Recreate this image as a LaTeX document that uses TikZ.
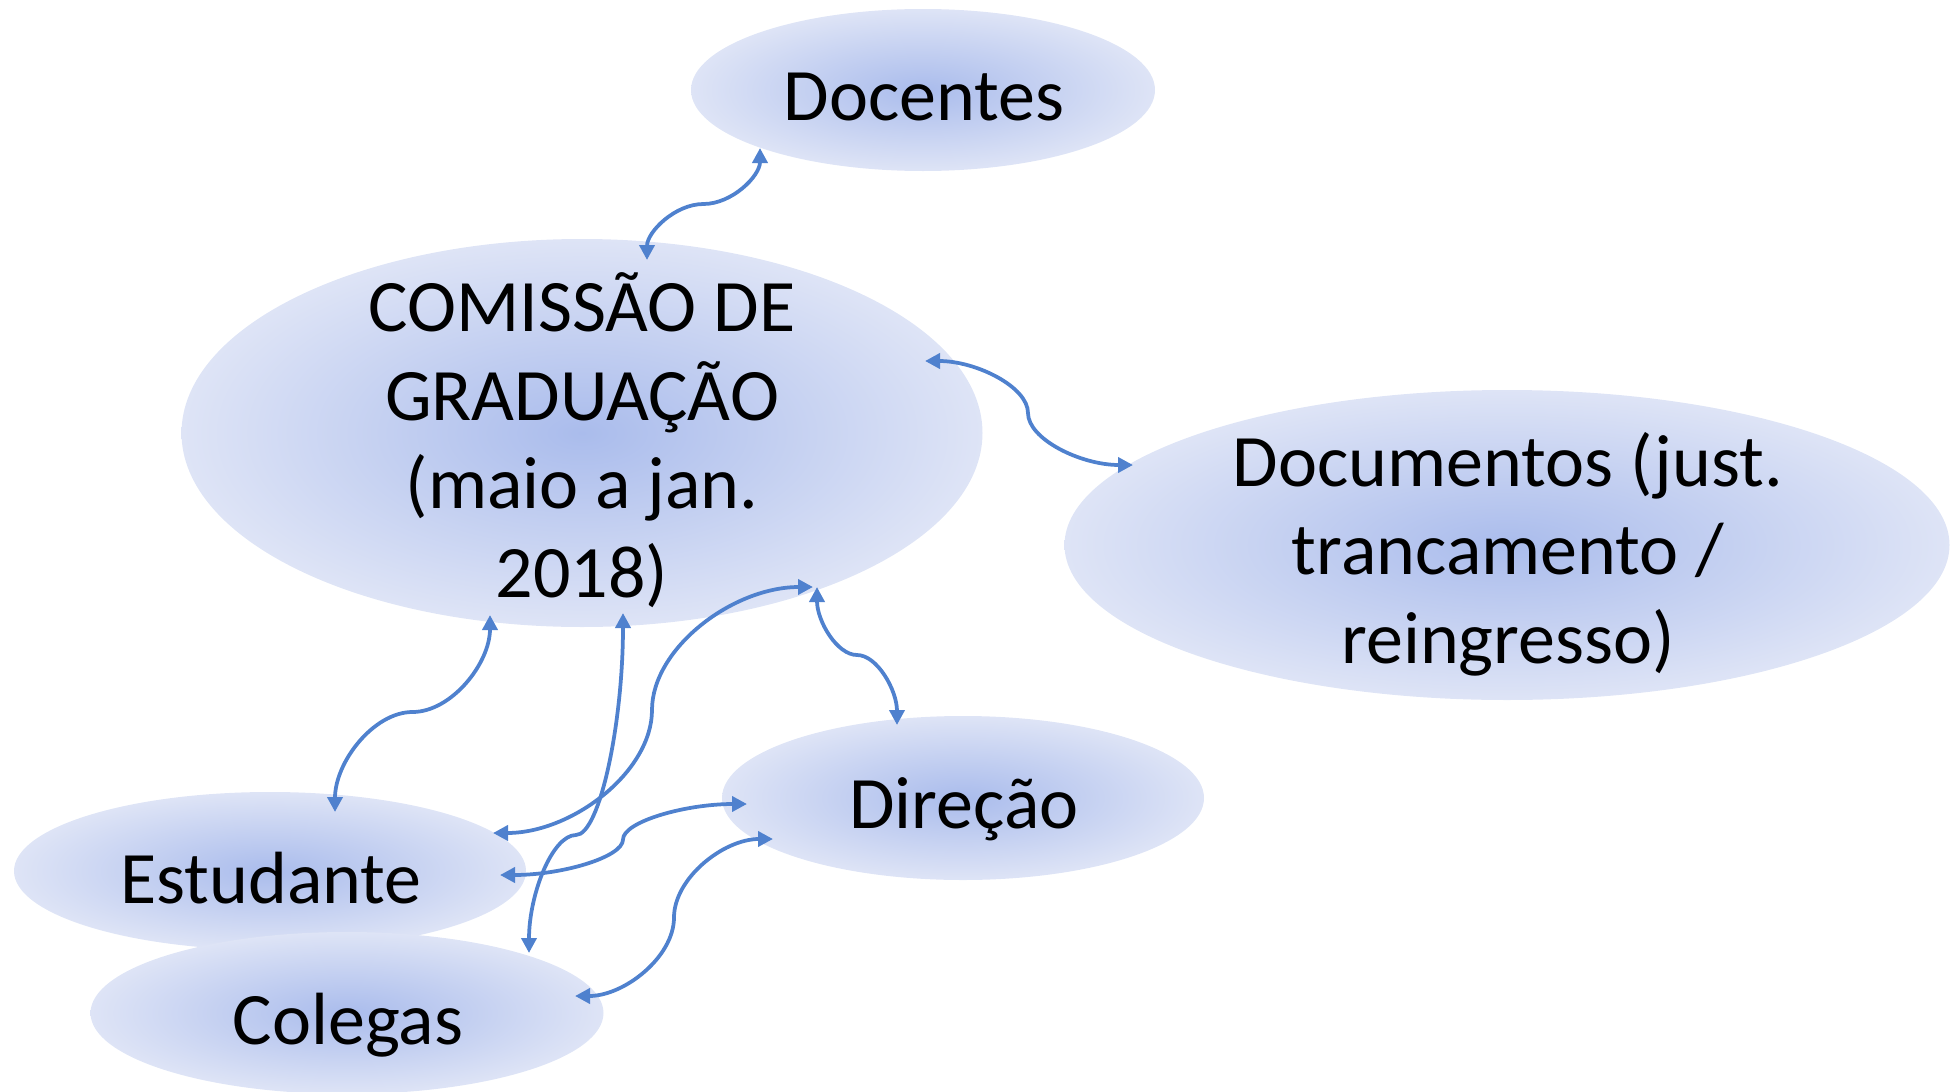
\documentclass[tikz,border=0pt]{standalone}
\usepackage{fontspec}
\setmainfont{Carlito}
\usetikzlibrary{shapes.geometric,arrows.meta,calc}
\definecolor{cin}{RGB}{170,188,236}
\definecolor{cout}{RGB}{222,228,246}
\definecolor{conn}{RGB}{79,129,206}
\tikzset{
  bubble/.style={ellipse, draw=none, inner sep=0pt, outer sep=0pt, shading=radial, inner color=cin, outer color=cout},
  lbl/.style={font=\fontsize{74}{88.5}\selectfont, align=center, text=black, inner sep=0pt},
  link/.style={draw=conn, line width=3.75pt, >={Triangle[length=15pt,width=15pt]}, <->},
}
\begin{document}
\begin{tikzpicture}[x=1pt,y=-1pt]
\useasboundingbox (0,0) rectangle (1960,1092);
% ellipses
\node[bubble, minimum width=801pt, minimum height=388pt] (com) at (582,433) {};
\node[bubble, minimum width=464pt, minimum height=162pt] (doc) at (923,90) {};
\node[bubble, minimum width=885pt, minimum height=310pt] (dcm) at (1507,545) {};
\node[bubble, minimum width=482pt, minimum height=164pt] (dir) at (963,798) {};
\node[bubble, minimum width=512pt, minimum height=158pt] (est) at (270,871) {};
\node[bubble, minimum width=513pt, minimum height=162pt] (col) at (347,1013) {};
% connectors
\draw[link] ($(com)+(65,-173)$) .. controls (647,232) and (675,204) .. (703.5,204) .. controls (732,204) and (760,176) .. ($(doc)+(-163,58)$);
\draw[link] ($(com)+(343,-72)$) .. controls (976.5,361) and (1028,387) .. (1028,413) .. controls (1028,439) and (1080.5,465) .. ($(dcm)+(-374,-80)$);
\draw[link] ($(com)+(-92,182)$) .. controls (490,663.5) and (451.25,712) .. (412.5,712) .. controls (373.75,712) and (335,762) .. ($(est)+(65,-59)$);
\draw[link] ($(com)+(41,180)$) .. controls (623,724) and (599.5,835) .. (576,835) .. controls (552.5,835) and (529,894) .. ($(col)+(182,-60)$);
\draw[link] ($(com)+(231,154)$) .. controls (732.5,587) and (652,648.5) .. (652,710) .. controls (652,771.5) and (572.5,833) .. ($(est)+(223,-38)$);
\draw[link] ($(com)+(235,154)$) .. controls (817,621) and (837,655) .. (857,655) .. controls (877,655) and (897,690) .. ($(dir)+(-66,-73)$);
\draw[link] ($(est)+(230,4)$) .. controls (561.5,875) and (623,857.25) .. (623,839.5) .. controls (623,821.75) and (685,804) .. ($(dir)+(-216,6)$);
\draw[link] ($(col)+(228,-17)$) .. controls (624.5,996) and (674,956.75) .. (674,917.5) .. controls (674,878.25) and (723.5,839) .. ($(dir)+(-190,41)$);
% texts
\node[lbl, anchor=base] (docT) at (924,120) {Docentes};
\node[lbl] (comT) at (582,440) {COMISSÃO DE\\GRADUAÇÃO\\(maio a jan.\\2018)};
\node[lbl] (dcmT) at (1508,554) {Documentos (just.\\trancamento /\\reingresso)};
\node[lbl, anchor=base] (dirT) at (964,828) {Direção};
\node[lbl, anchor=base] (estT) at (271,903) {Estudante};
\node[lbl, anchor=base] (colT) at (348,1044) {Colegas};
\end{tikzpicture}
\end{document}
